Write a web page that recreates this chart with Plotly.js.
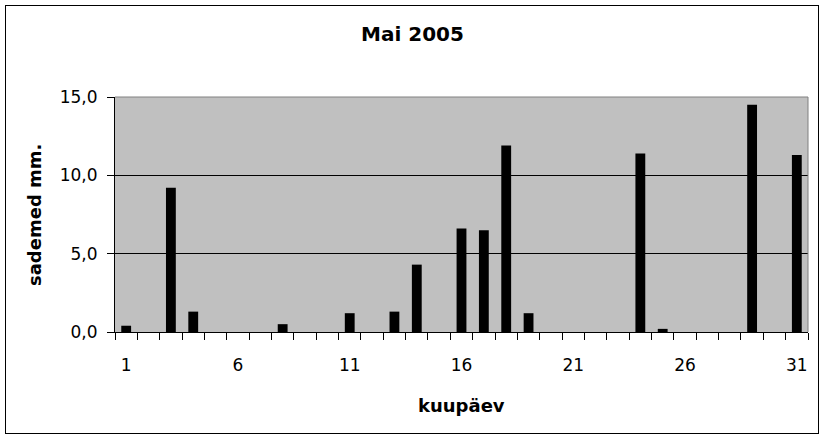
<!DOCTYPE html>
<html>
<head>
<meta charset="utf-8">
<script src="https://cdn.plot.ly/plotly-3.0.1.min.js"></script>
<style>
html,body{margin:0;padding:0;background:#fff;}
#wrap{position:relative;width:825px;height:439px;}
#chart{width:825px;height:439px;}
#frame{position:absolute;left:5px;top:5px;width:812px;height:427px;border:1px solid #000;pointer-events:none;}
</style>
</head>
<body>
<div id="wrap"><div id="chart"></div><div id="frame"></div></div>
<script>
const days = [1,2,3,4,5,6,7,8,9,10,11,12,13,14,15,16,17,18,19,20,21,22,23,24,25,26,27,28,29,30,31];
const rain = [0.4,0,9.2,1.3,0,0,0,0.5,0,0,1.2,0,1.3,4.3,0,6.6,6.5,11.9,1.2,0,0,0,0,11.4,0.2,0,0,0,14.5,0,11.3];
const xTicks = [1,6,11,16,21,26,31];
const yTicks = [0,5,10,15];
const titleText = 'Mai 2005';
const xTitle = 'kuupäev';
const yTitle = 'sademed mm.';

const font = "DejaVu Sans, Verdana, sans-serif";
Plotly.newPlot('chart', [{
  type:'bar', x:days, y:rain, width:0.44,
  marker:{color:'#000', line:{width:0}}, hoverinfo:'x+y'
}], {
  width:825, height:439,
  margin:{l:115, r:17, t:97, b:107},
  paper_bgcolor:'#fff', plot_bgcolor:'#c0c0c0',
  separators:', ',
  showlegend:false,
  title:{text:'<b>'+titleText+'</b>', font:{family:font, size:20, color:'#000'}, x:0.5, xref:'container', xanchor:'center', y:0.922, yanchor:'middle'},
  xaxis:{
    range:[0.5,31.5], tickvals:xTicks, ticktext:xTicks.map(String),
    ticks:'outside', ticklen:18, tickcolor:'rgba(0,0,0,0)',
    minor:{tick0:0.5, dtick:1, ticks:'outside', ticklen:7, tickcolor:'#000', tickwidth:1},
    showline:true, linecolor:'#000', linewidth:1, showgrid:false, zeroline:false,
    tickfont:{family:font, size:17, color:'#000'},
    fixedrange:true
  },
  yaxis:{
    range:[0,15], tickvals:yTicks, tickformat:'.1f',
    ticks:'outside', ticklen:7, tickcolor:'#000', ticklabelstandoff:6,
    showline:true, linecolor:'#000', linewidth:1,
    showgrid:true, gridcolor:'#000', gridwidth:1, zeroline:false,
    tickfont:{family:font, size:17, color:'#000'},
    fixedrange:true
  },
  annotations:[
    {text:'<b>'+xTitle+'</b>', xref:'paper', yref:'paper', x:0.5, y:-0.311, xanchor:'center', yanchor:'middle', showarrow:false, font:{family:font, size:18, color:'#000'}},
    {text:'<b>'+yTitle+'</b>', xref:'paper', yref:'paper', x:-0.1154, y:0.498, xanchor:'center', yanchor:'middle', textangle:-90, showarrow:false, font:{family:font, size:18, color:'#000'}}
  ],
  shapes:[
    {type:'line', xref:'paper', yref:'paper', x0:0, x1:1, y0:1, y1:1, line:{color:'#808080', width:1}},
    {type:'line', xref:'paper', yref:'paper', x0:1, x1:1, y0:0, y1:1, line:{color:'#808080', width:1}}
  ]
}, {displayModeBar:false, staticPlot:true});
</script>
</body>
</html>
